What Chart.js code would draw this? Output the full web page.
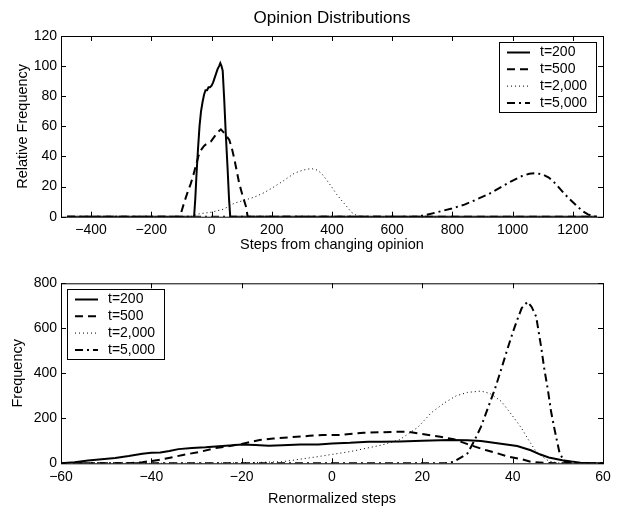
<!DOCTYPE html>
<html>
<head>
<meta charset="utf-8">
<script src="https://cdn.jsdelivr.net/npm/chart.js@4"></script>
<style>
  body { margin: 0; background: #fff; overflow: hidden; }
  canvas { display: block; }
</style>
</head>
<body>
<canvas id="topChart" width="618" height="253"></canvas>
<canvas id="bottomChart" width="618" height="253"></canvas>
<script>
const seriesLabels = ["t=200", "t=500", "t=2,000", "t=5,000"];

// top panel: steps from changing opinion vs relative frequency
const topXTicks = [-400, -200, 0, 200, 400, 600, 800, 1000, 1200];
const topYTicks = [0, 20, 40, 60, 80, 100, 120];

const top200X = [-480, -58, -54, -50, -45, -40, -35, -30, -25, -20, -15, -10, -5, 0, 5, 10, 15, 20, 25, 29, 33, 37, 42, 47, 53, 58, 62, 1280];
const top200Y = [0, 0, 12, 28, 45, 60, 70, 76, 81, 84, 84, 86, 86, 87, 89, 92, 95, 98, 100, 102, 100, 97, 78, 56, 33, 12, 0, 0];

const top500X = [-480, -110, -102, -90, -80, -69, -60, -52, -44, -36, -25, -13, -2, 9, 20, 31, 40, 48, 59, 68, 76, 84, 92, 103, 114, 120, 1280];
const top500Y = [0, 0, 2, 10, 16, 22, 28, 34, 40, 44, 47, 49, 50, 53, 56, 58, 56, 54, 51, 45, 38, 30, 22, 14, 7, 0, 0];

const top2000X = [-480, -70, -40, 0, 40, 76, 110, 142, 175, 209, 240, 276, 305, 331, 350, 364, 380, 398, 415, 431, 448, 464, 480, 498, 1280];
const top2000Y = [0, 0, 2, 3, 5, 9, 11, 13, 16, 20, 24, 29, 31, 32, 31, 29, 25, 20, 15, 11, 7, 3, 1, 0, 0];

const top5000X = [-480, 680, 709, 750, 798, 840, 875, 920, 964, 1000, 1031, 1055, 1075, 1100, 1120, 1142, 1164, 1187, 1209, 1230, 1250, 1275, 1290];
const top5000Y = [0, 0, 1, 3, 5.5, 8, 11, 15, 20, 24, 27, 28.5, 29, 28, 26, 22, 17, 12, 8, 4, 1.5, 0, 0];

// bottom panel: renormalized steps vs frequency
const botXTicks = [-60, -40, -20, 0, 20, 40, 60];
const botYTicks = [0, 200, 400, 600, 800];

const bot200X = [-60, -57, -54, -51, -48, -45, -42, -40, -38, -36, -34, -31, -28, -25, -22, -20, -17, -14, -11, -7, -3, 0, 4, 8, 11, 15, 20, 26, 30, 33, 37, 41, 44, 46, 48, 51, 53, 55, 57, 60];
const bot200Y = [0, 5, 12, 18, 24, 32, 42, 47, 48, 55, 63, 68, 71, 76, 80, 84, 81, 78, 80, 84, 84, 88, 91, 96, 96, 97, 100, 104, 102, 99, 88, 77, 58, 40, 26, 14, 8, 3, 1, 0];

const bot500X = [-60, -45, -42, -40, -37, -33, -29, -26, -23, -20, -16, -13, -9, -5, -2, 2, 7, 11, 14, 17, 20, 24, 27, 30, 34, 36, 39, 42, 44, 47, 50, 60];
const bot500Y = [0, 0, 5, 10, 20, 37, 52, 67, 76, 86, 104, 110, 116, 122, 126, 126, 136, 138, 140, 140, 130, 118, 107, 85, 59, 48, 30, 18, 7, 2, 0, 0];

const bot2000X = [-60, -30, -20, -11, -3, 4, 11, 15, 19, 22, 25, 27.5, 30, 33, 35, 37.5, 40, 42, 43.5, 45, 46.5, 48, 50, 52, 60];
const bot2000Y = [0, 0, 2, 7, 30, 52, 81, 105, 160, 225, 270, 300, 315, 321, 310, 275, 210, 155, 104, 58, 30, 10, 2, 0, 0];

const bot5000X = [-60, 25, 27, 28.5, 30, 31.5, 33, 34.5, 36, 37.5, 39, 40, 41, 42, 43.3, 44.2, 45.2, 46.3, 47, 47.8, 48.5, 49.3, 50.4, 51.5, 53, 60];
const bot5000Y = [0, 0, 7, 25, 44, 100, 163, 245, 326, 420, 518, 580, 637, 690, 718, 695, 652, 518, 420, 326, 230, 148, 44, 7, 0, 0];

const lineStyles = [
  { borderDash: [], borderWidth: 2 },
  { borderDash: [8, 5], borderWidth: 2 },
  { borderDash: [1, 3], borderWidth: 1 },
  { borderDash: [8, 4, 2, 4], borderWidth: 2 }
];

const family = '"Liberation Sans", Arial, Helvetica, sans-serif';
const font = { family: family, size: 14 };
const labelFont = { family: family, size: 14.5 };

function pts(xs, ys) {
  return xs.map((x, i) => ({ x: x, y: ys[i] }));
}

function makeSets(pairs) {
  return pairs.map((p, i) => ({
    label: seriesLabels[i],
    data: pts(p[0], p[1]),
    borderColor: '#000',
    borderWidth: lineStyles[i].borderWidth,
    borderDash: lineStyles[i].borderDash,
    fill: false
  }));
}

function minus(v) {
  return String(v).replace('-', '\u2212');
}

// frame with inward ticks, matlab style
const framePlugin = {
  id: 'frame',
  beforeDatasetsDraw(chart) {
    const { ctx, chartArea: a, scales } = chart;
    ctx.save();
    ctx.strokeStyle = '#000';
    ctx.lineWidth = 1;
    ctx.setLineDash([]);
    ctx.strokeRect(a.left + 0.5, a.top + 0.5, a.right - a.left, a.bottom - a.top);
    ctx.beginPath();
    scales.x.ticks.forEach(t => {
      const px = Math.round(scales.x.getPixelForValue(t.value)) + 0.5;
      ctx.moveTo(px, a.bottom); ctx.lineTo(px, a.bottom - 5);
      ctx.moveTo(px, a.top); ctx.lineTo(px, a.top + 5);
    });
    scales.y.ticks.forEach(t => {
      const py = Math.round(scales.y.getPixelForValue(t.value)) + 0.5;
      ctx.moveTo(a.left, py); ctx.lineTo(a.left + 5, py);
      ctx.moveTo(a.right, py); ctx.lineTo(a.right - 5, py);
    });
    ctx.stroke();
    ctx.restore();
  }
};

// legend box drawn inside the plot area
const boxLegend = {
  id: 'boxLegend',
  afterDatasetsDraw(chart, args, opts) {
    const { ctx, chartArea: a } = chart;
    const w = 97, h = 70;
    const x0 = opts.align === 'right' ? Math.round(a.right - 7 - w) : Math.round(a.left + 6);
    const y0 = Math.round(a.top + 6);
    ctx.save();
    ctx.fillStyle = '#fff';
    ctx.fillRect(x0, y0, w, h);
    ctx.strokeStyle = '#000';
    ctx.lineWidth = 1;
    ctx.setLineDash([]);
    ctx.strokeRect(x0 + 0.5, y0 + 0.5, w, h);
    ctx.font = font.size + 'px ' + font.family;
    ctx.textBaseline = 'middle';
    chart.data.datasets.forEach((ds, i) => {
      const y = y0 + 10.5 + i * 16.8;
      ctx.beginPath();
      ctx.setLineDash(ds.borderDash);
      ctx.lineWidth = ds.borderWidth;
      ctx.moveTo(x0 + 8, y);
      ctx.lineTo(x0 + 31, y);
      ctx.stroke();
      ctx.setLineDash([]);
      ctx.fillStyle = '#000';
      ctx.fillText(ds.label, x0 + 41, y);
    });
    ctx.restore();
  }
};

function makeChart(id, sets, cfg) {
  return new Chart(document.getElementById(id), {
    type: 'line',
    data: { datasets: sets },
    options: {
      responsive: false,
      animation: false,
      layout: { padding: { top: cfg.padTop, right: 15, left: 0, bottom: 0 } },
      elements: { point: { radius: 0 }, line: { tension: 0 } },
      plugins: {
        legend: { display: false },
        tooltip: { enabled: false },
        title: {
          display: !!cfg.title,
          text: cfg.title,
          fullSize: false,
          color: '#000',
          font: { family: family, size: 17, weight: 'normal' },
          padding: { top: 7.8, bottom: 7.8 }
        },
        boxLegend: { align: cfg.legendAlign }
      },
      scales: {
        x: {
          type: 'linear',
          min: cfg.xMin,
          max: cfg.xMax,
          grid: { display: false, drawTicks: false },
          border: { display: false },
          ticks: { color: '#000', font: font, padding: 5, maxRotation: 0, autoSkip: false, callback: v => minus(v) },
          afterBuildTicks: s => { s.ticks = cfg.xTicks.map(v => ({ value: v })); },
          afterFit: s => { s.height = cfg.xHeight; },
          title: { display: true, text: cfg.xTitle, color: '#000', font: labelFont, padding: { top: 0, bottom: cfg.xTitlePad } }
        },
        y: {
          min: cfg.yMin,
          max: cfg.yMax,
          grid: { display: false, drawTicks: false },
          border: { display: false },
          ticks: { color: '#000', font: font, padding: 4, autoSkip: false },
          afterBuildTicks: s => { s.ticks = cfg.yTicks.map(v => ({ value: v })); },
          afterFit: s => { s.width = 61; },
          title: { display: true, text: cfg.yTitle, color: '#000', font: labelFont, padding: { top: cfg.yTitlePad, bottom: 0 } }
        }
      }
    },
    plugins: [framePlugin, boxLegend]
  });
}

makeChart('topChart', makeSets([
  [top200X, top200Y], [top500X, top500Y], [top2000X, top2000Y], [top5000X, top5000Y]
]), {
  title: 'Opinion Distributions',
  padTop: 0,
  xMin: -500, xMax: 1300, xTicks: topXTicks, xHeight: 36.3,
  xTitle: 'Steps from changing opinion', xTitlePad: -0.7,
  yMin: 0, yMax: 120, yTicks: topYTicks,
  yTitle: 'Relative Frequency', yTitlePad: 14.3,
  legendAlign: 'right'
});

makeChart('bottomChart', makeSets([
  [bot200X, bot200Y], [bot500X, bot500Y], [bot2000X, bot2000Y], [bot5000X, bot5000Y]
]), {
  title: '',
  padTop: 30.3,
  xMin: -60, xMax: 60, xTicks: botXTicks, xHeight: 42.7,
  xTitle: 'Renormalized steps', xTitlePad: -1.7,
  yMin: 0, yMax: 800, yTicks: botYTicks,
  yTitle: 'Frequency', yTitlePad: 8.8,
  legendAlign: 'left'
});
</script>
</body>
</html>
